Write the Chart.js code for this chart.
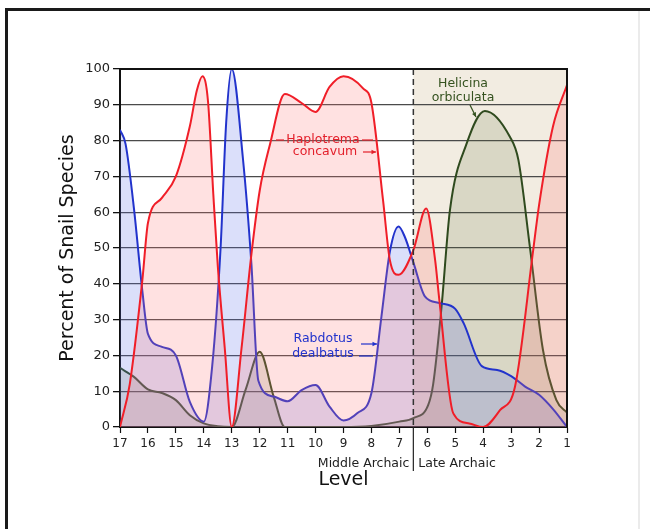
<!DOCTYPE html>
<html>
<head>
<meta charset="utf-8">
<script src="https://cdn.jsdelivr.net/npm/chart.js@4.4.0/dist/chart.umd.min.js"></script>
<style>
  html, body { margin: 0; padding: 0; background: #fff; }
  canvas { display: block; }
</style>
</head>
<body>
<canvas id="grafico" width="650" height="529"></canvas>
<script>
// Haplotrema concavum (vermelho)
const hapLevels = [17, 16.65, 16.2, 16, 15.5, 15, 14.5, 14.25, 14.05, 13.85, 13.66, 13.5, 13.25, 13, 12.65, 12.3, 12, 11.63, 11.1, 10.5, 10, 9.5, 9, 8.3, 8, 7.58, 7.34, 7.03, 6.5, 6.04, 5.72, 5.57, 5.07, 4.5, 4, 3.4, 2.86, 2.21, 2, 1.5, 1];
const hapValues = [0, 12, 41, 57, 64, 70, 84, 94, 98, 91, 65, 45, 22, 0, 22, 48, 66, 79, 93, 90.5, 88, 95, 98, 94.6, 90.5, 63, 46.6, 42.5, 49.4, 61, 46.6, 35.5, 3.8, 1, 0, 4.7, 11.3, 49.4, 62, 84, 95.5];

// Rabdotus dealbatus (azul)
const rabLevels = [17, 16.8, 16.5, 16.2, 16, 15.5, 15, 14.5, 14, 13.7, 13.4, 13.2, 13, 12.6, 12.3, 12.05, 11.5, 11, 10.5, 10, 9.5, 9, 8.5, 8, 7.64, 7.34, 7.03, 6.8, 6.5, 6.08, 5.55, 5, 4.7, 4.05, 3.5, 3, 2.5, 2, 1.5, 1];
const rabValues = [83, 79, 61, 38, 26, 22.4, 20, 7, 1.5, 17, 50, 85, 100, 75, 46, 13, 8.5, 7.2, 10.3, 11.7, 5.7, 1.8, 3.9, 9.5, 31, 49, 56, 53, 46, 36.4, 34.6, 33, 29, 17, 15.9, 14.2, 11.3, 9, 5, 0];

// Helicina orbiculata (verde)
const helLevels = [17, 16.5, 16, 15.5, 15, 14.5, 14, 13.5, 13, 12.5, 12, 11.5, 11.1, 10, 9, 8, 7, 6.5, 5.97, 5.79, 5.49, 5.19, 4.6, 3.94, 3.04, 2.74, 2.33, 1.86, 1.38, 1];
const helValues = [16.5, 14, 10.5, 9.5, 7.5, 3.3, 1, 0.2, 0, 10.5, 21, 8.5, 0, 0, 0, 0.3, 1.5, 2.5, 6.1, 12, 33.6, 60.6, 79, 88.3, 81, 74.6, 50.4, 21.5, 7.5, 4];

const levelTicks = [17, 16, 15, 14, 13, 12, 11, 10, 9, 8, 7, 6, 5, 4, 3, 2, 1];
const divisaoPeriodo = 6.5; // Middle Archaic | Late Archaic

function pontos(levels, values) {
  return levels.map((l, i) => ({ x: l, y: values[i] }));
}

const fonte = "'DejaVu Sans', sans-serif";

// fundo, moldura e faixa do Late Archaic
const fundoPlugin = {
  id: 'fundo',
  beforeDraw(chart) {
    const c = chart.ctx;
    const area = chart.chartArea;
    const x = chart.scales.x;
    c.save();
    c.fillStyle = '#ffffff';
    c.fillRect(0, 0, chart.width, chart.height);
    // faixa bege do Late Archaic
    c.fillStyle = 'rgba(205,180,140,0.26)';
    const xDiv = x.getPixelForValue(divisaoPeriodo);
    c.fillRect(xDiv, area.top, area.right - xDiv, area.bottom - area.top);
    // moldura
    c.strokeStyle = '#1a1a1a';
    c.lineWidth = 3;
    c.beginPath();
    c.moveTo(6.5, 540);
    c.lineTo(6.5, 9.5);
    c.lineTo(660, 9.5);
    c.stroke();
    c.strokeStyle = '#e4e4e4';
    c.lineWidth = 1.5;
    c.beginPath();
    c.moveTo(639, 11);
    c.lineTo(639, 529);
    c.stroke();
    c.restore();
  },
  afterDraw(chart) {
    const c = chart.ctx;
    const area = chart.chartArea;
    const x = chart.scales.x;
    const xDiv = x.getPixelForValue(divisaoPeriodo);
    c.save();
    // linha tracejada
    c.strokeStyle = '#333';
    c.lineWidth = 1.5;
    c.setLineDash([6, 4]);
    c.beginPath();
    c.moveTo(xDiv, area.top);
    c.lineTo(xDiv, area.bottom);
    c.stroke();
    c.setLineDash([]);
    // divisor abaixo do eixo
    c.strokeStyle = '#222';
    c.lineWidth = 1.2;
    c.beginPath();
    c.moveTo(xDiv, area.bottom);
    c.lineTo(xDiv, area.bottom + 44);
    c.stroke();
    // borda da area
    c.strokeStyle = '#111';
    c.lineWidth = 2;
    c.beginPath();
    c.moveTo(area.left, area.top);
    c.lineTo(area.right, area.top);
    c.lineTo(area.right, area.bottom);
    c.stroke();

    // textos dos periodos
    c.font = "12.5px " + fonte;
    c.fillStyle = '#222';
    c.textBaseline = 'middle';
    c.textAlign = 'right';
    c.fillText('Middle Archaic', xDiv - 4, area.bottom + 37);
    c.textAlign = 'left';
    c.fillText('Late Archaic', xDiv + 5, area.bottom + 37);

    // anotacoes
    c.textAlign = 'center';
    c.font = "12.5px " + fonte;

    c.fillStyle = '#e3202b';
    c.strokeStyle = '#e3202b';
    c.fillText('Haplotrema', 323, 140);
    c.fillText('concavum', 325, 152);
    linha(c, 276, 140, 284, 140, false);
    linha(c, 362, 140, 373, 140, false);
    linha(c, 363, 152, 376, 152, true);

    c.fillStyle = '#2233cc';
    c.strokeStyle = '#2233cc';
    c.fillText('Rabdotus', 323, 339);
    c.fillText('dealbatus', 323, 354);
    linha(c, 361, 344, 377, 344, true);
    linha(c, 359, 356, 373, 356, false);

    c.fillStyle = '#35521f';
    c.strokeStyle = '#35521f';
    c.fillText('Helicina', 463, 84);
    c.fillText('orbiculata', 463, 98);
    linha(c, 470, 105, 476, 117, true);
    c.restore();
  }
};

function linha(c, x1, y1, x2, y2, seta) {
  c.lineWidth = 1.2;
  c.beginPath();
  c.moveTo(x1, y1);
  c.lineTo(x2, y2);
  c.stroke();
  if (seta) {
    const ang = Math.atan2(y2 - y1, x2 - x1);
    c.beginPath();
    c.moveTo(x2, y2);
    c.lineTo(x2 - 5 * Math.cos(ang - 0.45), y2 - 5 * Math.sin(ang - 0.45));
    c.lineTo(x2 - 5 * Math.cos(ang + 0.45), y2 - 5 * Math.sin(ang + 0.45));
    c.closePath();
    c.fill();
  }
}

const dados = {
  datasets: [
    {
      label: 'Haplotrema concavum',
      data: pontos(hapLevels, hapValues),
      borderColor: '#f01e28',
      backgroundColor: 'rgba(255,120,120,0.22)',
      fill: 'origin',
    },
    {
      label: 'Rabdotus dealbatus',
      data: pontos(rabLevels, rabValues),
      borderColor: '#2233cc',
      backgroundColor: 'rgba(90,110,230,0.22)',
      fill: 'origin',
    },
    {
      label: 'Helicina orbiculata',
      data: pontos(helLevels, helValues),
      borderColor: '#2f4a1e',
      backgroundColor: 'rgba(95,115,60,0.17)',
      fill: 'origin',
    },
  ],
};

const config = {
  type: 'line',
  data: dados,
  options: {
    responsive: false,
    animation: false,
    layout: { padding: { left: 0, right: 83, top: 69, bottom: 0 } },
    plugins: {
      legend: { display: false },
      tooltip: { enabled: false },
    },
    elements: {
      point: { radius: 0 },
      line: { borderWidth: 2, cubicInterpolationMode: 'monotone' },
    },
    scales: {
      x: {
        type: 'linear',
        reverse: true,
        min: 1,
        max: 17,
        afterBuildTicks: (s) => { s.ticks = levelTicks.map(v => ({ value: v })); },
        ticks: { color: '#222', font: { family: fonte, size: 12 }, padding: 4, maxRotation: 0, autoSkip: false },
        grid: { drawOnChartArea: false, tickLength: 6, tickColor: '#111', tickWidth: 1.2 },
        border: { color: '#111', width: 2 },
        title: { display: true, text: 'Level', color: '#111', font: { family: fonte, size: 19 }, padding: { top: 0, bottom: 38 } },
        afterFit: (s) => { s.height = 102; },
      },
      y: {
        min: 0,
        max: 100,
        ticks: { stepSize: 10, color: '#222', font: { family: fonte, size: 13 }, padding: 3 },
        grid: { color: '#4a4a4a', lineWidth: 1.3, tickLength: 7, tickColor: '#111' },
        border: { color: '#111', width: 2 },
        title: { display: true, text: 'Percent of Snail Species', color: '#111', font: { family: fonte, size: 19 }, padding: { top: 57, bottom: 0 } },
        afterFit: (s) => { s.width = 120; },
      },
    },
  },
  plugins: [fundoPlugin],
};

const grafico = new Chart(document.getElementById('grafico'), config);
</script>
</body>
</html>
